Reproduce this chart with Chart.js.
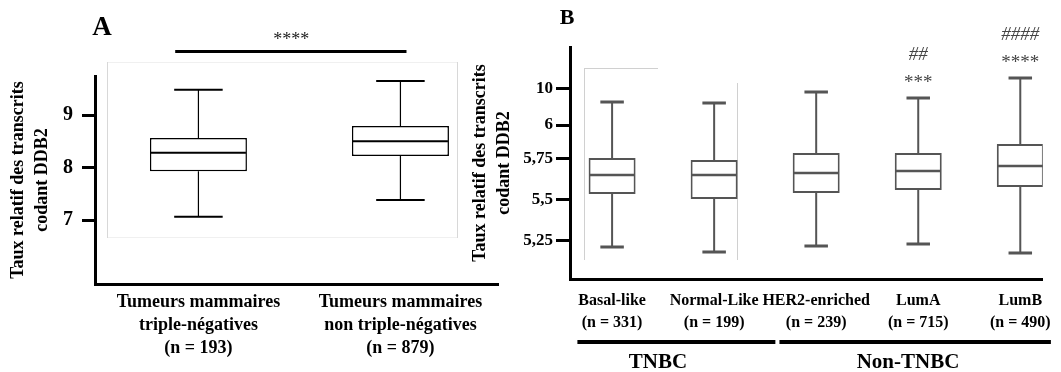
<!DOCTYPE html>
<html>
<head>
<meta charset="utf-8">
<title>DDB2</title>
<script src="https://cdn.jsdelivr.net/npm/chart.js@4.4.1/dist/chart.umd.min.js"></script>
<style>
  html, body { margin: 0; padding: 0; background: #fff; }
  #wrap { position: relative; width: 1061px; height: 372px; overflow: hidden; }
  #boxA { position: absolute; left: 0; top: 0; width: 500px; height: 372px; }
  #boxB { position: absolute; left: 460px; top: 0; width: 601px; height: 372px; }
</style>
</head>
<body>
<div id="wrap">
  <div id="boxA"><canvas id="chartA"></canvas></div>
  <div id="boxB"><canvas id="chartB"></canvas></div>
</div>
<script>
// Panel A : TNBC vs non-TNBC
var labelsA = [
    ['Tumeurs mammaires', 'triple-négatives', '(n = 193)'],
    ['Tumeurs mammaires', 'non triple-négatives', '(n = 879)']
];
var minA = [7.06, 7.38];
var q1A = [7.93, 8.22];
var medA = [8.28, 8.50];
var q3A = [8.56, 8.79];
var maxA = [9.48, 9.65];
var tickValuesA = [7, 8, 9];
var tickLabelsA = ['7', '8', '9'];

// Panel B : subtypes (axis labels are as printed on the figure)
var labelsB = [
    ['Basal-like', '(n = 331)'],
    ['Normal-Like', '(n = 199)'],
    ['HER2-enriched', '(n = 239)'],
    ['LumA', '(n = 715)'],
    ['LumB', '(n = 490)']
];
var minB = [5.213, 5.183, 5.220, 5.232, 5.177];
var q1B = [5.537, 5.506, 5.543, 5.561, 5.579];
var medB = [5.652, 5.652, 5.665, 5.677, 5.707];
var q3B = [5.756, 5.744, 5.787, 5.787, 5.841];
var maxB = [6.098, 6.091, 6.159, 6.122, 6.244];
var starsB = ['', '', '', '***', '****'];
var hashB = ['', '', '', '##', '####'];
var tickValuesB = [5.25, 5.5, 5.75, 5.957, 6.177];
var tickLabelsB = ['5,25', '5,5', '5,75', '6', '10'];
var groupsB = ['TNBC', 'Non-TNBC'];

var serif = "'Liberation Serif', 'Times New Roman', serif";
var yTitle = ['Taux relatif des transcrits', 'codant DDB2'];

// whiskers, caps and median drawn on top of the floating bars
function whiskerPlugin(mins, q1s, meds, q3s, maxs, st) {
    return {
        id: 'whiskers',
        afterDatasetsDraw: function(chart) {
            var ctx = chart.ctx;
            var xs = chart.scales.x;
            var ys = chart.scales.y;
            ctx.save();
            ctx.strokeStyle = st.color;
            for (var i = 0; i < mins.length; i++) {
                var cx = xs.getPixelForValue(i);
                var half = st.box / 2;
                var cap = st.box / 4;
                ctx.lineWidth = st.line;
                ctx.beginPath();
                ctx.moveTo(cx, ys.getPixelForValue(q3s[i]));
                ctx.lineTo(cx, ys.getPixelForValue(maxs[i]));
                ctx.moveTo(cx, ys.getPixelForValue(q1s[i]));
                ctx.lineTo(cx, ys.getPixelForValue(mins[i]));
                ctx.stroke();
                ctx.lineWidth = st.cap;
                ctx.beginPath();
                ctx.moveTo(cx - cap, ys.getPixelForValue(maxs[i]));
                ctx.lineTo(cx + cap, ys.getPixelForValue(maxs[i]));
                ctx.moveTo(cx - cap, ys.getPixelForValue(mins[i]));
                ctx.lineTo(cx + cap, ys.getPixelForValue(mins[i]));
                ctx.stroke();
                ctx.lineWidth = st.median;
                ctx.beginPath();
                ctx.moveTo(cx - half + 1, ys.getPixelForValue(meds[i]));
                ctx.lineTo(cx + half - 1, ys.getPixelForValue(meds[i]));
                ctx.stroke();
            }
            ctx.restore();
        }
    };
}

function boxData(q1s, q3s) {
    return q1s.map(function(v, i) { return { x: i, y: [v, q3s[i]] }; });
}

// Panel A decorations
var decoA = {
    id: 'decoA',
    beforeDatasetsDraw: function(chart) {
        var ctx = chart.ctx;
        ctx.save();
        ctx.lineWidth = 1;
        ctx.strokeStyle = '#f0f0f0';
        ctx.beginPath();
        ctx.moveTo(107, 62.5); ctx.lineTo(457, 62.5);
        ctx.moveTo(107, 237.5); ctx.lineTo(457, 237.5);
        ctx.stroke();
        ctx.strokeStyle = '#d8d8d8';
        ctx.beginPath();
        ctx.moveTo(107.5, 62); ctx.lineTo(107.5, 238);
        ctx.moveTo(457.5, 62); ctx.lineTo(457.5, 238);
        ctx.stroke();
        ctx.restore();
    },
    afterDraw: function(chart) {
        var ctx = chart.ctx;
        var xs = chart.scales.x;
        ctx.save();
        ctx.fillStyle = '#000';
        ctx.font = 'bold 27px ' + serif;
        ctx.textAlign = 'center';
        ctx.textBaseline = 'middle';
        ctx.fillText('A', 102, 28);
        // significance bracket
        ctx.lineWidth = 3;
        ctx.strokeStyle = '#000';
        ctx.beginPath();
        ctx.moveTo(xs.getPixelForValue(-0.115), 51.5);
        ctx.lineTo(xs.getPixelForValue(1.03), 51.5);
        ctx.stroke();
        ctx.font = '18px ' + serif;
        ctx.fillStyle = '#222';
        ctx.fillText('****', xs.getPixelForValue(0.46), 40);
        ctx.restore();
    }
};

// Panel B decorations
var decoB = {
    id: 'decoB',
    beforeDatasetsDraw: function(chart) {
        var ctx = chart.ctx;
        ctx.save();
        ctx.lineWidth = 1;
        ctx.strokeStyle = '#d0d0d0';
        ctx.beginPath();
        ctx.moveTo(124.5, 68.5); ctx.lineTo(198, 68.5);
        ctx.moveTo(124.5, 68); ctx.lineTo(124.5, 260);
        ctx.moveTo(277.5, 83); ctx.lineTo(277.5, 260);
        ctx.stroke();
        ctx.restore();
    },
    afterDraw: function(chart) {
        var ctx = chart.ctx;
        var xs = chart.scales.x;
        var ys = chart.scales.y;
        ctx.save();
        ctx.textAlign = 'center';
        ctx.textBaseline = 'middle';
        ctx.fillStyle = '#000';
        ctx.font = 'bold 22px ' + serif;
        ctx.fillText('B', 107, 18);
        // significance marks above the whiskers
        for (var i = 0; i < starsB.length; i++) {
            if (!starsB[i]) continue;
            var cx = xs.getPixelForValue(i);
            var top = ys.getPixelForValue(maxB[i]);
            ctx.fillStyle = '#444';
            ctx.font = '19px ' + serif;
            ctx.fillText(starsB[i], cx, top - 15);
            ctx.font = 'italic 19px ' + serif;
            ctx.fillText(hashB[i], cx, top - 43);
        }
        // TNBC / Non-TNBC brackets
        var from = [-0.34, 1.64];
        var to = [1.6, 4.3];
        var mid = [0.45, 2.9];
        ctx.fillStyle = '#000';
        ctx.strokeStyle = '#000';
        ctx.lineWidth = 4;
        ctx.font = 'bold 21px ' + serif;
        for (var g = 0; g < groupsB.length; g++) {
            ctx.beginPath();
            ctx.moveTo(xs.getPixelForValue(from[g]), 342);
            ctx.lineTo(xs.getPixelForValue(to[g]), 342);
            ctx.stroke();
            ctx.fillText(groupsB[g], xs.getPixelForValue(mid[g]), 363);
        }
        ctx.restore();
    }
};

function tickLabel(values, labels) {
    return function(v) {
        var i = values.indexOf(v);
        return i < 0 ? '' : labels[i];
    };
}

Chart.defaults.font.family = serif;
Chart.defaults.color = '#000';

new Chart(document.getElementById('chartA'), {
    type: 'bar',
    data: {
        datasets: [{
            data: boxData(q1A, q3A),
            backgroundColor: '#fff',
            borderColor: '#000',
            borderWidth: 1.5,
            borderSkipped: false,
            barThickness: 97,
            inflateAmount: 0
        }]
    },
    options: {
        responsive: true,
        maintainAspectRatio: false,
        animation: false,
        devicePixelRatio: 1,
        events: [],
        layout: { padding: { top: 76, right: 2, left: 0, bottom: 0 } },
        plugins: { legend: { display: false }, tooltip: { enabled: false } },
        scales: {
            x: {
                type: 'linear',
                min: -0.512,
                max: 1.483,
                offset: false,
                grid: { display: false, drawTicks: false, offset: false },
                border: { display: true, color: '#000', width: 3 },
                afterBuildTicks: function(s) { s.ticks = [{ value: 0 }, { value: 1 }]; },
                afterFit: function(s) { s.height = 88; },
                ticks: {
                    autoSkip: false,
                    maxRotation: 0,
                    padding: 7,
                    font: { size: 18, weight: 'bold', lineHeight: 1.28 },
                    callback: function(v) { return labelsA[v]; }
                }
            },
            y: {
                min: 5.781,
                max: 9.743,
                grid: { drawOnChartArea: false, tickLength: 13, tickWidth: 3, tickColor: '#000' },
                border: { display: true, color: '#000', width: 3 },
                afterBuildTicks: function(s) { s.ticks = tickValuesA.map(function(v) { return { value: v }; }); },
                afterFit: function(s) { s.width = 95; },
                ticks: {
                    padding: 9,
                    font: { size: 20, weight: 'bold' },
                    callback: tickLabel(tickValuesA, tickLabelsA)
                },
                title: {
                    display: true,
                    text: yTitle,
                    padding: { top: 6, bottom: 0 },
                    font: { size: 18, weight: 'bold', lineHeight: 1.33 }
                }
            }
        }
    },
    plugins: [decoA, whiskerPlugin(minA, q1A, medA, q3A, maxA, { color: '#000', box: 97, line: 1.2, cap: 2, median: 2 })]
});

new Chart(document.getElementById('chartB'), {
    type: 'bar',
    data: {
        datasets: [{
            data: boxData(q1B, q3B),
            backgroundColor: '#fff',
            borderColor: '#555',
            borderWidth: 2,
            borderSkipped: false,
            barThickness: 47,
            inflateAmount: 0
        }]
    },
    options: {
        responsive: true,
        maintainAspectRatio: false,
        animation: false,
        devicePixelRatio: 1,
        events: [],
        layout: { padding: { top: 47, right: 8, left: 0, bottom: 0 } },
        plugins: { legend: { display: false }, tooltip: { enabled: false } },
        scales: {
            x: {
                type: 'linear',
                min: -0.4125,
                max: 4.22,
                offset: false,
                grid: { display: false, drawTicks: false, offset: false },
                border: { display: true, color: '#000', width: 3 },
                afterBuildTicks: function(s) { s.ticks = labelsB.map(function(l, i) { return { value: i }; }); },
                afterFit: function(s) { s.height = 93; },
                ticks: {
                    autoSkip: false,
                    maxRotation: 0,
                    padding: 10,
                    font: { size: 16, weight: 'bold', lineHeight: 1.42 },
                    callback: function(v) { return labelsB[v]; }
                }
            },
            y: {
                min: 5.018,
                max: 6.433,
                grid: { drawOnChartArea: false, tickLength: 14, tickWidth: 3, tickColor: '#000' },
                border: { display: true, color: '#000', width: 3 },
                afterBuildTicks: function(s) { s.ticks = tickValuesB.map(function(v) { return { value: v }; }); },
                afterFit: function(s) { s.width = 110; },
                ticks: {
                    padding: 3,
                    font: { size: 17, weight: 'bold' },
                    callback: tickLabel(tickValuesB, tickLabelsB)
                },
                title: {
                    display: true,
                    text: yTitle,
                    padding: { top: 8, bottom: 0 },
                    font: { size: 18, weight: 'bold', lineHeight: 1.33 }
                }
            }
        }
    },
    plugins: [decoB, whiskerPlugin(minB, q1B, medB, q3B, maxB, { color: '#555', box: 47, line: 2, cap: 3, median: 2.5 })]
});
</script>
</body>
</html>
